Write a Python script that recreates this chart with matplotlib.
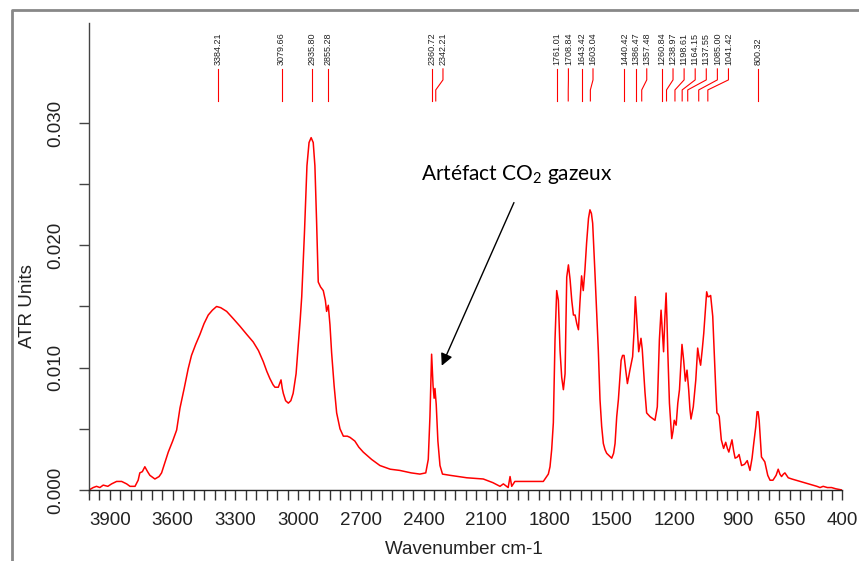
import numpy as np
import matplotlib
matplotlib.use('Agg')
import matplotlib.pyplot as plt
from matplotlib.lines import Line2D

plt.rcParams['font.family'] = ['Liberation Sans', 'DejaVu Sans']
plt.rcParams['mathtext.fontset'] = 'custom'
plt.rcParams['mathtext.rm'] = 'Lato'

# spectrum (wavenumber cm-1, ATR units)
wavenumber = [4000, 3980, 3964, 3948, 3932, 3910, 3892, 3868, 3844, 3820, 3804, 3780, 3765, 3757,
              3745, 3733, 3720, 3709, 3685, 3665, 3653, 3640, 3621, 3600, 3581, 3565, 3545, 3526,
              3510, 3490, 3470, 3450, 3430, 3410, 3390, 3370, 3342, 3310, 3279, 3245, 3215, 3190,
              3167, 3150, 3135, 3120, 3111, 3095, 3082, 3076, 3071, 3060, 3047, 3035, 3024, 3010,
              3000, 2990, 2983, 2970, 2958, 2948, 2938, 2928, 2920, 2912, 2904, 2893, 2880, 2870,
              2864, 2856, 2848, 2840, 2828, 2816, 2800, 2784, 2765, 2752, 2729, 2710, 2689, 2649,
              2609, 2560, 2514, 2460, 2418, 2390, 2378, 2370, 2362, 2355, 2350, 2346, 2340, 2332,
              2322, 2310, 2274, 2194, 2115, 2069, 2035, 2019, 1996, 1987, 1979, 1964, 1900, 1828,
              1804, 1796, 1788, 1780, 1772, 1764, 1756, 1748, 1740, 1732, 1724, 1716, 1708, 1700,
              1692, 1684, 1676, 1668, 1660, 1653, 1645, 1637, 1629, 1621, 1612, 1605, 1598, 1592,
              1581, 1573, 1565, 1557, 1549, 1541, 1533, 1525, 1513, 1501, 1492, 1485, 1477, 1469,
              1456, 1449, 1442, 1434, 1426, 1414, 1401, 1394, 1388, 1382, 1372, 1367, 1361, 1355,
              1350, 1342, 1334, 1318, 1294, 1283, 1273, 1265, 1259, 1253, 1247, 1241, 1237, 1233,
              1225, 1214, 1208, 1202, 1193, 1185, 1177, 1171, 1165, 1157, 1149, 1141, 1133, 1127,
              1122, 1111, 1099, 1090, 1083, 1076, 1068, 1061, 1054, 1047, 1041, 1036, 1028, 1018,
              1009, 1003, 998, 992, 987, 977, 966, 956, 948, 941, 926, 918, 911, 900, 892, 880,
              866, 853, 840, 830, 822, 812, 806, 801, 796, 790, 785, 777, 769, 755, 744, 730,
              715, 705, 697, 689, 680, 673, 657, 640, 620, 600, 580, 560, 540, 520, 505, 490,
              470, 450, 430, 400]
absorbance = [0.0000, 0.0002, 0.0003, 0.0002, 0.0004, 0.0003, 0.0005, 0.0007, 0.0007, 0.0005, 0.0003,
              0.0003, 0.0008, 0.0014, 0.0015, 0.0019, 0.0015, 0.0012, 0.0009, 0.0011, 0.0014, 0.0021,
              0.0031, 0.0040, 0.0049, 0.0067, 0.0083, 0.0099, 0.0110, 0.0119, 0.0127, 0.0136, 0.0143,
              0.0147, 0.0150, 0.0149, 0.0146, 0.0140, 0.0134, 0.0127, 0.0121, 0.0114, 0.0105, 0.0097,
              0.0091, 0.0086, 0.0084, 0.0084, 0.0090, 0.0083, 0.0079, 0.0073, 0.0071, 0.0073, 0.0079,
              0.0095, 0.0117, 0.0140, 0.0158, 0.0210, 0.0265, 0.0284, 0.0288, 0.0284, 0.0265, 0.0220,
              0.0170, 0.0166, 0.0163, 0.0155, 0.0146, 0.0151, 0.0135, 0.0112, 0.0085, 0.0063, 0.0050,
              0.0044, 0.0044, 0.0043, 0.0040, 0.0035, 0.0031, 0.0025, 0.0020, 0.0017, 0.0016, 0.0014,
              0.0013, 0.0014, 0.0025, 0.0060, 0.0111, 0.0085, 0.0075, 0.0083, 0.0070, 0.0040, 0.0020,
              0.0013, 0.0012, 0.0010, 0.0009, 0.0006, 0.0003, 0.0005, 0.0002, 0.0011, 0.0003, 0.0007,
              0.0007, 0.0007, 0.0013, 0.0019, 0.0033, 0.0055, 0.0123, 0.0163, 0.0155, 0.0114, 0.0092,
              0.0082, 0.0095, 0.0174, 0.0184, 0.0172, 0.0155, 0.0143, 0.0143, 0.0136, 0.0131, 0.0153,
              0.0175, 0.0163, 0.0180, 0.0202, 0.0222, 0.0229, 0.0226, 0.0218, 0.0177, 0.0145, 0.0114,
              0.0074, 0.0052, 0.0038, 0.0033, 0.0030, 0.0028, 0.0026, 0.0030, 0.0038, 0.0060, 0.0074,
              0.0106, 0.0110, 0.0110, 0.0098, 0.0087, 0.0098, 0.0109, 0.0130, 0.0158, 0.0142, 0.0113,
              0.0118, 0.0124, 0.0115, 0.0101, 0.0080, 0.0063, 0.0060, 0.0057, 0.0068, 0.0123, 0.0147,
              0.0130, 0.0113, 0.0140, 0.0161, 0.0140, 0.0114, 0.0071, 0.0042, 0.0048, 0.0057, 0.0053,
              0.0071, 0.0082, 0.0100, 0.0119, 0.0106, 0.0089, 0.0098, 0.0082, 0.0066, 0.0058, 0.0068,
              0.0090, 0.0116, 0.0108, 0.0102, 0.0115, 0.0128, 0.0145, 0.0162, 0.0158, 0.0158, 0.0159,
              0.0142, 0.0104, 0.0080, 0.0063, 0.0062, 0.0060, 0.0041, 0.0034, 0.0039, 0.0034, 0.0031,
              0.0041, 0.0032, 0.0026, 0.0027, 0.0029, 0.0020, 0.0021, 0.0024, 0.0016, 0.0026, 0.0038,
              0.0052, 0.0064, 0.0064, 0.0057, 0.0040, 0.0027, 0.0025, 0.0023, 0.0012, 0.0008, 0.0008,
              0.0012, 0.0017, 0.0013, 0.0011, 0.0013, 0.0014, 0.0010, 0.0009, 0.0008, 0.0007, 0.0006,
              0.0005, 0.0004, 0.0003, 0.0002, 0.0003, 0.0002, 0.0002, 0.0001, 0.0000]

# picked peaks
peaks = [3384.21, 3079.66, 2935.80, 2855.28, 2360.72, 2342.21, 1761.01, 1708.84, 1643.42,
         1603.04, 1440.42, 1386.47, 1357.48, 1260.84, 1238.97, 1198.61, 1164.15, 1137.55,
         1085.00, 1041.42, 800.32]

x_ticklabels = [3900, 3600, 3300, 3000, 2700, 2400, 2100, 1800, 1500, 1200, 900, 650, 400]
y_ticklabels = [0.000, 0.010, 0.020, 0.030]

fig = plt.figure(figsize=(8.59, 5.61), dpi=100)
W, H = 859, 561
ax = fig.add_axes([89 / W, 68 / H, 753 / W, 470 / H])

ax.plot(wavenumber, absorbance, color='#ff0000', lw=1.1)

ax.set_xlim(4000, 400)
ax.set_ylim(-0.000245, 0.03817)

# R-like axes: no box, x axis sitting on y=0
ax.spines['top'].set_visible(False)
ax.spines['right'].set_visible(False)
ax.spines['bottom'].set_position(('data', 0))
ax.spines['left'].set_color('#444444')
ax.spines['bottom'].set_color('#222222')
ax.spines['left'].set_linewidth(1.0)
ax.spines['bottom'].set_linewidth(1.0)

ax.set_xticks(x_ticklabels)
ax.set_xticklabels([str(v) for v in x_ticklabels])
ax.set_xticks([v for v in range(4000, 399, -50) if v not in x_ticklabels], minor=True)
ax.set_yticks(y_ticklabels)
ax.set_yticklabels(['%.3f' % v for v in y_ticklabels], rotation=90, va='center')
ax.set_yticks([0.005, 0.015, 0.025], minor=True)

ax.tick_params(axis='x', which='both', direction='out', length=7.5, width=1, color='#333333',
               labelsize=13.5, pad=8, labelcolor='#222222')
ax.tick_params(axis='y', which='both', direction='out', length=7.5, width=1, color='#444444',
               labelsize=13.5, pad=10, labelcolor='#222222')

fig.text(27 / W, 1 - 306 / H, 'ATR Units', rotation=90, ha='center', va='center',
         fontsize=13.5, color='#222222')
fig.text(464 / W, 1 - 549 / H, 'Wavenumber cm-1', ha='center', va='center',
         fontsize=13.5, color='#222222')

# peak labels, pushed apart when they crowd, with bent leader lines
y_text, y_top, y_b1, y_b2, y_bot = 0.03474, 0.03442, 0.03352, 0.0327, 0.0318
min_gap = 53.0
label_x = []
for p in peaks:
    if label_x and label_x[-1] - p < min_gap:
        label_x.append(label_x[-1] - min_gap)
    else:
        label_x.append(p)
for p, lx in zip(peaks, label_x):
    ax.plot([lx, lx, p, p], [y_top, y_b1, y_b2, y_bot], color='#ff0000', lw=0.8, clip_on=False)
    ax.text(lx, y_text, '%.2f' % p, rotation=90, ha='center', va='bottom', fontsize=6.5,
            color='#222222')

# annotation for the CO2 artefact
ax.annotate('', xy=(2319, 0.00995), xytext=(1963, 0.0237),
            arrowprops=dict(arrowstyle='-|>', color='black', lw=1, mutation_scale=18))
ax.text(2413, 0.02534, 'Artéfact CO$_2$ gazeux', fontsize=15, family='Lato',
        ha='left', va='baseline', color='black')

# grey frame around the figure
fig.add_artist(Line2D([12 / W, 12 / W, 1], [0, 1 - 10 / H, 1 - 10 / H], transform=fig.transFigure,
                      color='#888888', lw=2))

fig.savefig('out.png', dpi=100)
